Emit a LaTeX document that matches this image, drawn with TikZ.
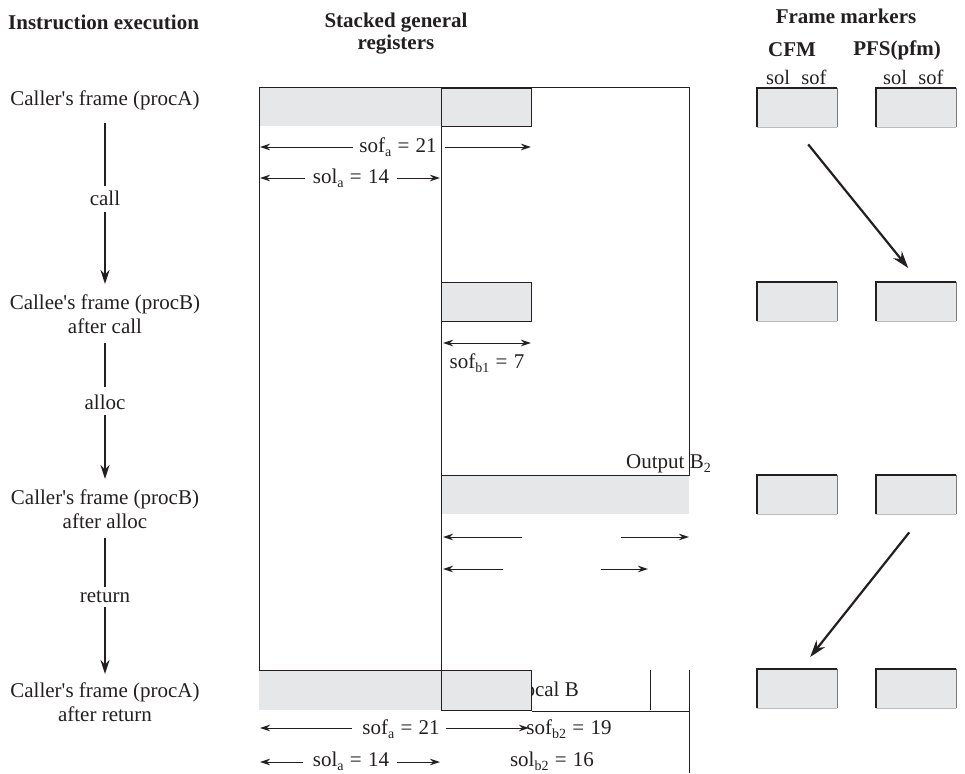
\documentclass[tikz,border=0pt]{standalone}
\usepackage{fontspec}
\setmainfont{Liberation Serif}
\usetikzlibrary{arrows.meta,calc}
\definecolor{ink}{HTML}{231F20}
\definecolor{regshade}{HTML}{E6E7E8}
\newcommand\lo[1]{\raisebox{-0.2em}{\fontsize{14}{14}\selectfont #1}}
\newcommand\apos{\textquotesingle}
\newcommand\eqsp{\hspace{0.3em}=\hspace{0.3em}}
\newcommand\mborder[1]{%
  \draw[ink,line width=1.3pt] (#1.south west) -- (#1.north west) -- (#1.north east);
  \draw[ink!60,line width=0.9pt] (#1.north east) -- (#1.south east);
  \draw[ink!30,line width=0.8pt] (#1.south east) -- (#1.south west);}
\tikzset{
  lbl/.style={font=\fontsize{21}{24}\selectfont, text=ink, inner sep=0pt, align=center},
  small/.style={font=\fontsize{20.5}{22}\selectfont, text=ink, inner sep=0pt},
  hdr/.style={font=\fontsize{21}{22}\selectfont\bfseries, text=ink, inner sep=0pt, align=center},
  reg/.style={draw=ink, line width=1pt},
  regbox/.style={draw=ink, fill=regshade, line width=1pt, inner sep=0pt, anchor=north west},
  mbox/.style={fill=regshade, inner sep=0pt, minimum width=80, minimum height=39, anchor=north west},
  dim/.style={draw=ink, line width=1pt, -{Stealth[length=10pt,width=6.5pt]}},
  dimboth/.style={draw=ink, line width=1pt, {Stealth[length=10pt,width=6.5pt]}-{Stealth[length=10pt,width=6.5pt]}},
  flow/.style={draw=ink, line width=2pt},
  flowarr/.style={draw=ink, line width=2pt, -{Stealth[length=14pt,width=9pt]}},
  diag/.style={draw=ink, line width=2.2pt, -{Stealth[length=17pt,width=11pt]}},
}
\begin{document}
\begin{tikzpicture}[x=1pt,y=-1pt]
\useasboundingbox (0,0) rectangle (965,773);

% headers
\node[hdr, anchor=west] (h1) at (8,22) {Instruction execution};
\node[hdr] (h2) at (396,34) {Stacked general\\registers};
\node[hdr] (h3) at (846,16) {Frame markers};
\node[hdr] (h4) at (792,50) {CFM};
\node[hdr] (h5) at (897,50) {PFS(pfm)};
\node[small] (l1) at (778,77) {sol};
\node[small] (l2) at (814,77) {sof};
\node[small] (l3) at (895,77) {sol};
\node[small] (l4) at (931,77) {sof};

% instruction execution column
\node[lbl] (s1) at (105,100) {Caller\apos s frame (procA)};
\node[lbl] (s2) at (105,314) {Callee\apos s frame (procB)\\after call};
\node[lbl] (s3) at (105,509) {Caller\apos s frame (procB)\\after alloc};
\node[lbl] (s4) at (105,702) {Caller\apos s frame (procA)\\after return};
\node[lbl] (t1) at (105,198) {call};
\node[lbl] (t2) at (105,402) {alloc};
\node[lbl] (t3) at (105,597) {return};
\coordinate (a1) at (105,123); \coordinate (a2) at (105,186);
\coordinate (a3) at (105,212); \coordinate (a4) at (105,284);
\coordinate (b1) at (105,343); \coordinate (b2) at (105,387);
\coordinate (b3) at (105,415); \coordinate (b4) at (105,479);
\coordinate (e1) at (105,538); \coordinate (e2) at (105,587);
\coordinate (e3) at (105,607); \coordinate (e4) at (105,674);
\draw[flow] (a1) -- (a2);
\draw[flowarr] (a3) -- (a4);
\draw[flow] (b1) -- (b2);
\draw[flowarr] (b3) -- (b4);
\draw[flow] (e1) -- (e2);
\draw[flowarr] (e3) -- (e4);

% stacked registers
\fill[regshade] (259,88) rectangle (441,126);
\fill[regshade] (441,475) rectangle (689,514);
\fill[regshade] (259,670) rectangle (441,710);
\draw[reg] (259,670) -- (259,88) -- (689,88) -- (689,475) -- (441,475);
\draw[reg] (259,670) -- (441,670);
\draw[reg] (441,88) -- (441,710);
\node[regbox, minimum width=90, minimum height=38] (ra) at (441,88) {};
\node[regbox, minimum width=90, minimum height=39] (rb) at (441,282) {};
\node[lbl, anchor=base east] (locb) at (579,696) {Local B};
\node[regbox, minimum width=90, minimum height=40] (rc) at (441,670) {};
\draw[reg] (rc.south east) -- (rc.south east -| 689,0);
\draw[reg] (650,670) -- (650,710);
\draw[reg] (689,670) -- (689,773);
\node[lbl, anchor=base east] (outb) at (711,468) {Output B\lo{2}};

% dimensions, top
\node[lbl, anchor=base] (sofa1) at (398,152) {sof\lo{a}\eqsp 21};
\draw[dim] (353,147) -- (260,147);
\draw[dim] (445,147) -- (531,147);
\node[lbl, anchor=base] (sola1) at (351,183) {sol\lo{a}\eqsp 14};
\draw[dim] (305,178) -- (260,178);
\draw[dim] (397,178) -- (440,178);
% procB
\draw[dimboth] (443,343) -- (531,343);
\node[lbl, anchor=base] (sofb1) at (487,368) {sof\lo{b1}\eqsp 7};
% after alloc
\draw[dim] (522,537) -- (443,537);
\draw[dim] (621,537) -- (689,537);
\draw[dim] (503,569) -- (443,569);
\draw[dim] (601,569) -- (648,569);
% bottom
\node[lbl, anchor=base] (sofa2) at (401,734) {sof\lo{a}\eqsp 21};
\draw[dim] (352,728) -- (260,728);
\draw[dim] (446,728) -- (529,728);
\node[lbl, anchor=base] (sofb2) at (569,734) {sof\lo{b2}\eqsp 19};
\node[lbl, anchor=base] (sola2) at (351,766) {sol\lo{a}\eqsp 14};
\draw[dim] (303,762) -- (260,762);
\draw[dim] (397,762) -- (440,762);
\node[lbl, anchor=base] (solb2) at (552,766) {sol\lo{b2}\eqsp 16};

% frame marker boxes
\node[mbox] (c1) at (757,88) {};  \node[mbox] (p1) at (876,88) {};
\node[mbox] (c2) at (757,282) {}; \node[mbox] (p2) at (876,282) {};
\node[mbox] (c3) at (757,475) {}; \node[mbox] (p3) at (876,475) {};
\node[mbox] (c4) at (757,669) {}; \node[mbox] (p4) at (876,669) {};
\mborder{c1}\mborder{p1}\mborder{c2}\mborder{p2}
\mborder{c3}\mborder{p3}\mborder{c4}\mborder{p4}

\draw[diag] ([xshift=11pt,yshift=-17pt]c1.south) -- ([xshift=-8pt,yshift=14pt]p2.north);
\draw[diag] ([xshift=-7pt,yshift=-18pt]p3.south) -- ([xshift=13pt,yshift=12pt]c4.north);
\end{tikzpicture}
\end{document}
